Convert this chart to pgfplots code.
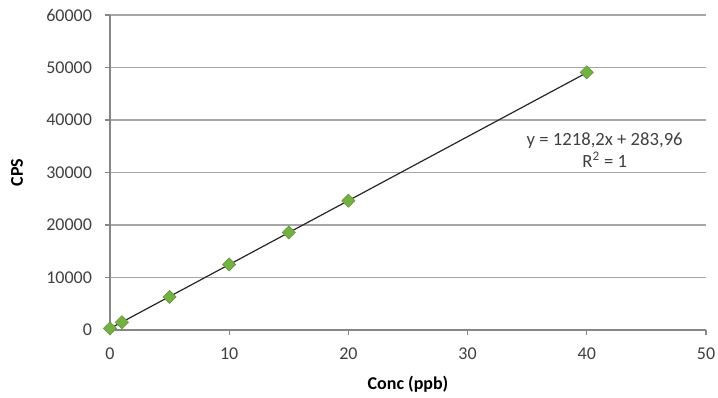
\documentclass[border=0pt]{standalone}
\usepackage{pgfplots}
\pgfplotsset{compat=1.18}
\usepackage{fontspec}
\setmainfont{Carlito}
\definecolor{gridgray}{HTML}{A6A6A6}
\definecolor{axgray}{HTML}{868686}
\definecolor{ticktext}{HTML}{404040}
\definecolor{mkgreen}{HTML}{74B043}
\begin{document}
\begin{tikzpicture}
\path[use as bounding box] (-82.5pt,-51pt) rectangle (456pt,247.5pt);
\begin{axis}[
  scale only axis,
  width=447pt, height=236.25pt,
  xmin=0, xmax=50, ymin=0, ymax=60000,
  xtick={0,10,20,30,40,50},
  ytick={0,10000,20000,30000,40000,50000,60000},
  scaled y ticks=false,
  /pgf/number format/assume math mode=true,
  /pgf/number format/set thousands separator={},
  ymajorgrids,
  grid style={gridgray, line width=0.8pt},
  axis x line*=bottom,
  axis y line*=left,
  axis line style={axgray, line width=0.8pt},
  x axis line style={-},
  y axis line style={-},
  tick style={axgray, line width=0.8pt},
  tick align=outside,
  major tick length=4pt,
  tick label style={font=\fontsize{13.5}{16}\selectfont, text=ticktext},
  xticklabel style={yshift=-6pt},
  yticklabel style={xshift=-6pt},
  xlabel={\textbf{Conc (ppb)}},
  ylabel={\textbf{CPS}},
  label style={font=\fontsize{13.5}{16}\selectfont},
  xlabel style={at={(axis description cs:0.5,-0.1735)}, anchor=center},
  ylabel style={at={(axis description cs:-0.156,0.5)}, anchor=center},
  clip=false,
]
\addplot[black!85, line width=0.9pt] coordinates {(0,283.96) (40,49012)};
\addplot[only marks, mark=square*, mark size=3.5pt, mkgreen, mark options={rotate=45, fill=mkgreen, draw=mkgreen!85!black}]
  coordinates {(0,290) (1,1480) (5,6300) (10,12480) (15,18580) (20,24630) (40,49080)};
\node[align=center, font=\fontsize{14}{16.5}\selectfont, text=ticktext] at (axis cs:41.5,34300)
  {y = 1218,2x + 283,96\\R\textsuperscript{2} = 1};
\end{axis}
\end{tikzpicture}
\end{document}
